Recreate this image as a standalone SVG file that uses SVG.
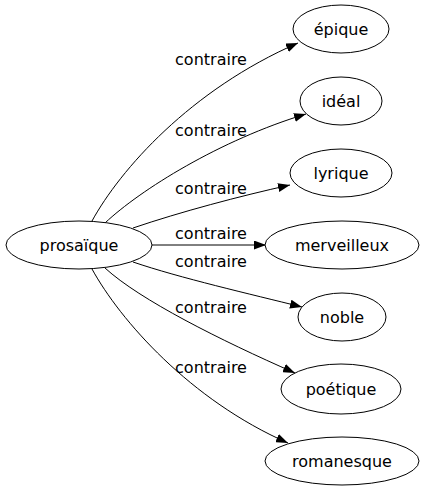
<svg xmlns="http://www.w3.org/2000/svg" width="424" height="491" viewBox="0 0 424 491">
<defs>
<style>
.n ellipse{fill:#fff;stroke:#000;stroke-width:1}
text{font-family:"DejaVu Sans",sans-serif;font-size:16px;fill:#000}
.n text{text-anchor:middle}
.e path{fill:none;stroke:#000;stroke-width:1;marker-end:url(#a)}
.e text{text-anchor:middle}
</style>
<marker id="a" markerUnits="userSpaceOnUse" markerWidth="12" markerHeight="9" refX="12" refY="4.5" orient="auto"><path d="M0,0L12,4.5L0,9z" fill="#000"/></marker>
</defs>
<rect width="424" height="491" fill="#fff"/>
<g id="edges" class="e">
<path d="M92,221 C120,170 190,90 298,43"/>
<path d="M105,223 C140,190 220,140 306,114"/>
<path d="M133,228 C180,212 240,196 290,185"/>
<path d="M152,245 L266,245"/>
<path d="M133,262 C180,278 250,294 302,307"/>
<path d="M105,268 C140,300 220,340 295,373"/>
<path d="M92,269 C120,320 190,400 288,443"/>
<text x="211" y="65">contraire</text>
<text x="211" y="136">contraire</text>
<text x="211" y="194">contraire</text>
<text x="211" y="239">contraire</text>
<text x="211" y="267">contraire</text>
<text x="211" y="313">contraire</text>
<text x="211" y="373">contraire</text>
</g>
<g id="prosaique" class="n"><ellipse cx="79" cy="245" rx="73" ry="24"/><text x="79" y="251">prosaïque</text></g>
<g id="epique" class="n"><ellipse cx="341" cy="29" rx="48" ry="24"/><text x="341" y="35">épique</text></g>
<g id="ideal" class="n"><ellipse cx="341" cy="101" rx="41" ry="24"/><text x="341" y="107">idéal</text></g>
<g id="lyrique" class="n"><ellipse cx="341" cy="173" rx="51" ry="24"/><text x="341" y="179">lyrique</text></g>
<g id="merveilleux" class="n"><ellipse cx="342" cy="245" rx="77" ry="24"/><text x="342" y="251">merveilleux</text></g>
<g id="noble" class="n"><ellipse cx="342" cy="317" rx="44" ry="24"/><text x="342" y="323">noble</text></g>
<g id="poetique" class="n"><ellipse cx="341" cy="389" rx="60" ry="25"/><text x="341" y="395">poétique</text></g>
<g id="romanesque" class="n"><ellipse cx="342" cy="461" rx="77" ry="24"/><text x="342" y="467">romanesque</text></g>
</svg>
